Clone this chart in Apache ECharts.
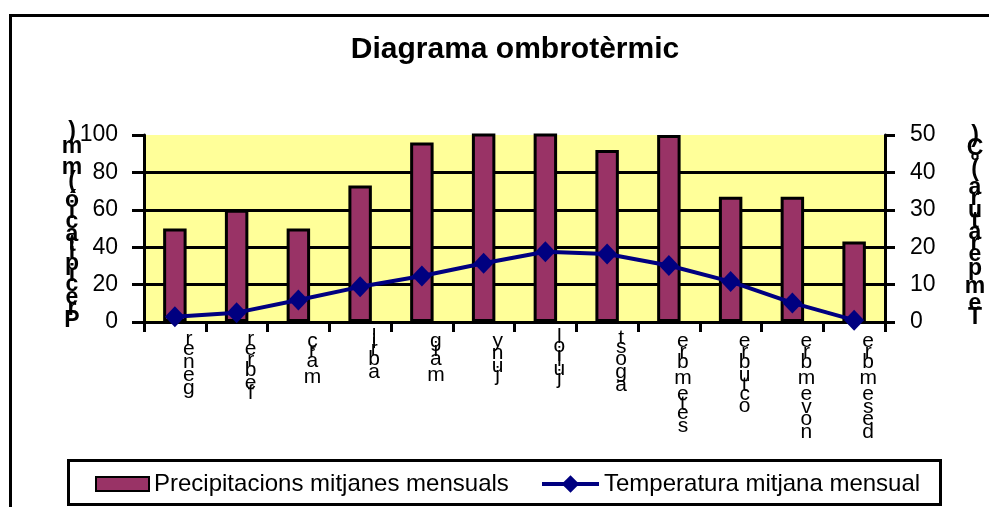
<!DOCTYPE html>
<html>
<head>
<meta charset="utf-8">
<script src="https://cdn.jsdelivr.net/npm/echarts@6/dist/echarts.min.js"></script>
</head>
<body style="margin: 0">
<div id="chart" style="width: 989px; height: 507px"></div>
<script>
var months = ['gener', 'febrer', 'març', 'abril', 'maig', 'juny', 'juliol', 'agost', 'setembre', 'octubre', 'novembre', 'desembre'];
var precipitacio = [50, 60, 50, 73, 96, 110, 106, 92, 100, 67, 67, 43];
var temperatura = [1.4, 2.5, 5.9, 9.4, 12.3, 15.7, 18.8, 18.2, 15.1, 10.8, 5.1, 0.5];
var precipTicks = [0, 20, 40, 60, 80, 100];
var tempTicks = [0, 10, 20, 30, 40, 50];

var FONT = 'Liberation Sans';

// rough Arial advance widths (em) used to stack letters like the rotated Excel text
var regW = {i: .222, j: .222, l: .222, r: .333, t: .278, f: .278, m: .833, c: .5, 'ç': .5, s: .5, v: .5, y: .5, ' ': .278, '(': .333, ')': .333};
var boldW = {i: .278, r: .389, t: .333, m: .889, p: .611, 'ó': .611, u: .611, T: .611, P: .667, C: .722, 'º': .365, ' ': .278, '(': .333, ')': .333};

function stack(text, scale, prefix, table) {
    var out = [];
    var chars = text.split('');
    for (var i = chars.length - 1; i >= 0; i--) {
        var c = chars[i];
        var w = table[c] != null ? table[c] : .556;
        out.push('{' + prefix + Math.max(1, Math.round(w * scale)) + '|' + c + '}');
    }
    return out.join('\n');
}

function richSet(prefix, size, weight) {
    var r = {};
    for (var n = 1; n <= 30; n++) {
        r[prefix + n] = {lineHeight: n, fontSize: size, fontWeight: weight, fontFamily: FONT, color: '#000'};
    }
    return r;
}

var chart = echarts.init(document.getElementById('chart'));

var legendText = {fontSize: 24, color: '#000', fontFamily: FONT};

chart.setOption({
    backgroundColor: '#fff',
    animation: false,
    title: {
        text: 'Diagrama ombrotèrmic',
        left: 515,
        top: 35,
        padding: 0,
        textAlign: 'center',
        textStyle: {fontSize: 30, fontWeight: 'bold', color: '#000', fontFamily: FONT}
    },
    graphic: [{
        type: 'rect',
        silent: true,
        z: -1,
        shape: {x: 10.5, y: 15.5, width: 1200, height: 800},
        style: {fill: null, stroke: '#000', lineWidth: 3}
    }, {
        // legend frame
        type: 'rect',
        silent: true,
        shape: {x: 68.5, y: 460.5, width: 872, height: 44},
        style: {fill: '#fff', stroke: '#000', lineWidth: 3}
    }],
    legend: [{
        left: 95,
        top: 472,
        padding: 0,
        itemWidth: 53,
        itemHeight: 14,
        textStyle: legendText,
        data: [{name: 'Precipitacions mitjanes mensuals', icon: 'rect'}]
    }, {
        left: 540,
        top: 472,
        padding: 0,
        itemWidth: 57,
        itemHeight: 22,
        textStyle: legendText,
        lineStyle: {width: 4},
        data: [{name: 'Temperatura mitjana mensual'}]
    }],
    grid: {
        left: 144,
        right: 104,
        top: 135,
        bottom: 185,
        show: true,
        backgroundColor: '#ffff99',
        borderWidth: 0,
        outerBoundsMode: 'none'
    },
    xAxis: {
        type: 'category',
        data: months,
        axisLine: {lineStyle: {color: '#000', width: 3}},
        axisTick: {show: true, length: 10, lineStyle: {color: '#000', width: 3}},
        axisLabel: {
            interval: 0,
            margin: 13,
            padding: [0, 0, 0, 28],
            formatter: function (v) { return stack(v, 23, 'h', regW); },
            rich: richSet('h', 21, 'normal')
        }
    },
    yAxis: [{
        type: 'value',
        min: precipTicks[0],
        max: precipTicks[precipTicks.length - 1],
        interval: precipTicks[1] - precipTicks[0],
        name: stack('Precipitació (mm)', 24, 'b', boldW),
        nameLocation: 'middle',
        nameRotate: 0,
        nameGap: 72,
        nameMoveOverlap: false,
        nameTextStyle: {align: 'center', verticalAlign: 'middle', rich: richSet('b', 23, 'bold')},
        axisLine: {show: true, lineStyle: {color: '#000', width: 3}},
        axisTick: {show: true, length: 12, lineStyle: {color: '#000', width: 3}},
        axisLabel: {margin: 26, fontSize: 23, color: '#000', fontFamily: FONT},
        splitLine: {show: true, showMaxLine: false, showMinLine: false, lineStyle: {color: '#000', width: 3}}
    }, {
        type: 'value',
        min: tempTicks[0],
        max: tempTicks[tempTicks.length - 1],
        interval: tempTicks[1] - tempTicks[0],
        name: stack('Temperatura (ºC)', 24, 'b', boldW),
        nameLocation: 'middle',
        nameRotate: 0,
        nameGap: 90,
        nameMoveOverlap: false,
        nameTextStyle: {align: 'center', verticalAlign: 'middle', rich: richSet('b', 23, 'bold')},
        axisLine: {show: true, lineStyle: {color: '#000', width: 3}},
        axisTick: {show: true, length: 10, lineStyle: {color: '#000', width: 3}},
        axisLabel: {margin: 25, fontSize: 23, color: '#000', fontFamily: FONT},
        splitLine: {show: false}
    }],
    series: [{
        name: 'Precipitacions mitjanes mensuals',
        type: 'bar',
        yAxisIndex: 0,
        barWidth: '38%',
        clip: true,
        data: precipitacio,
        itemStyle: {color: '#993366', borderColor: '#000', borderWidth: 3}
    }, {
        name: 'Temperatura mitjana mensual',
        type: 'line',
        yAxisIndex: 1,
        data: temperatura,
        symbol: 'diamond',
        symbolSize: [20, 21],
        z: 5,
        itemStyle: {color: '#000080'},
        lineStyle: {color: '#000080', width: 4}
    }]
});
</script>
</body>
</html>
